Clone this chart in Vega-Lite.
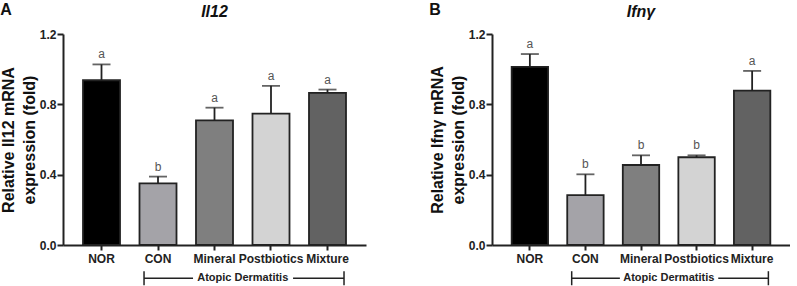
{
  "$schema": "https://vega.github.io/schema/vega-lite/v6.json",
  "padding": {"left": 0, "top": 2, "right": 0, "bottom": 0},
  "spacing": 63,
  "config": {
    "font": "Liberation Sans",
    "view": {"stroke": null},
    "title": {"font": "Liberation Sans"},
    "axis": {"labelFont": "Liberation Sans", "titleFont": "Liberation Sans"}
  },
  "datasets": {
    "il12": [
      {"group": "NOR", "mean": 0.937, "upper": 1.027, "letter": "a"},
      {"group": "CON", "mean": 0.350, "upper": 0.389, "letter": "b"},
      {"group": "Mineral", "mean": 0.709, "upper": 0.781, "letter": "a"},
      {"group": "Postbiotics", "mean": 0.747, "upper": 0.905, "letter": "a"},
      {"group": "Mixture", "mean": 0.865, "upper": 0.884, "letter": "a"}
    ],
    "ifng": [
      {"group": "NOR", "mean": 1.013, "upper": 1.086, "letter": "a"},
      {"group": "CON", "mean": 0.284, "upper": 0.402, "letter": "b"},
      {"group": "Mineral", "mean": 0.455, "upper": 0.510, "letter": "b"},
      {"group": "Postbiotics", "mean": 0.499, "upper": 0.510, "letter": "b"},
      {"group": "Mixture", "mean": 0.878, "upper": 0.990, "letter": "a"}
    ],
    "bracket": [
      {"x1": 1.753, "x2": 2.62, "y1": -0.189, "y2": -0.189},
      {"x1": 4.39, "x2": 5.292, "y1": -0.189, "y2": -0.189},
      {"x1": 1.753, "x2": 1.753, "y1": -0.149, "y2": -0.229},
      {"x1": 5.292, "x2": 5.292, "y1": -0.149, "y2": -0.229}
    ],
    "bracketLabel": [
      {"x": 3.5, "y": -0.189, "label": "Atopic Dermatitis"}
    ]
  },
  "hconcat": [
    {
      "title": {"text": "A", "anchor": "start", "frame": "bounds", "fontSize": 16, "fontWeight": "bold", "color": "#111", "dy": 18},
      "vconcat": [
        {
          "width": 303,
          "height": 211,
          "title": {"text": "Il12", "fontSize": 16, "fontWeight": "bold", "fontStyle": "italic", "color": "#111", "offset": 8},
          "layer": [
            {
              "data": {"name": "il12"},
              "encoding": {
                "x": {"field": "group", "type": "nominal", "sort": ["NOR", "CON", "Mineral", "Postbiotics", "Mixture"],
                  "scale": {"paddingInner": 0.345, "paddingOuter": 0.354},
                  "axis": {"title": null, "labelAngle": 0, "labelFontWeight": "bold", "labelFontSize": 12, "labelColor": "#222", "domainColor": "#222", "domainWidth": 2, "tickColor": "#222", "tickWidth": 2, "tickSize": 5, "labelPadding": 3}},
                "y": {"field": "mean", "type": "quantitative",
                  "scale": {"domain": [0, 1.2], "nice": false},
                  "axis": {"title": ["Relative Il12 mRNA", "expression (fold)"], "values": [0, 0.4, 0.8, 1.2], "format": ".1f", "grid": false, "labelFontWeight": "bold", "labelFontSize": 12, "labelColor": "#222", "domainColor": "#222", "domainWidth": 2, "tickColor": "#222", "tickWidth": 2, "tickSize": 6, "labelPadding": 1, "titleFontSize": 16, "titleFontWeight": "bold", "titleColor": "#111", "titleLineHeight": 21, "titlePadding": 2}}
              },
              "layer": [
                {"mark": {"type": "bar", "stroke": "#222", "strokeWidth": 1.8},
                  "encoding": {"color": {"field": "group", "type": "nominal", "legend": null,
                    "scale": {"domain": ["NOR", "CON", "Mineral", "Postbiotics", "Mixture"], "range": ["#000000", "#a4a3a8", "#7f7f7f", "#d3d3d3", "#626262"]}}}},
                {"mark": {"type": "rule", "strokeWidth": 1.8, "color": "#222"},
                  "encoding": {"y2": {"field": "upper"}}},
                {"mark": {"type": "tick", "size": 18, "thickness": 1.8, "color": "#222"},
                  "encoding": {"y": {"field": "upper", "type": "quantitative"}}},
                {"mark": {"type": "text", "baseline": "alphabetic", "dy": -6, "fontSize": 12, "fill": "#555"},
                  "encoding": {"y": {"field": "upper", "type": "quantitative"}, "text": {"field": "letter"}}}
              ]
            },
            {
              "data": {"name": "bracket"},
              "mark": {"type": "rule", "strokeWidth": 1.5, "color": "#222", "clip": false},
              "encoding": {
                "x": {"field": "x1", "type": "quantitative", "scale": {"domain": [0.319, 5.681], "nice": false, "zero": false}, "axis": null},
                "x2": {"field": "x2"},
                "y": {"field": "y1", "type": "quantitative", "scale": {"domain": [0, 1.2], "nice": false}, "axis": null},
                "y2": {"field": "y2"}
              }
            },
            {
              "data": {"name": "bracketLabel"},
              "mark": {"type": "text", "fontSize": 11, "fontWeight": "bold", "color": "#222", "baseline": "middle", "clip": false},
              "encoding": {
                "x": {"field": "x", "type": "quantitative", "scale": {"domain": [0.319, 5.681], "nice": false, "zero": false}, "axis": null},
                "y": {"field": "y", "type": "quantitative", "scale": {"domain": [0, 1.2], "nice": false}, "axis": null},
                "text": {"field": "label"}
              }
            }
          ],
          "resolve": {"scale": {"x": "independent", "y": "independent"}}
        }
      ]
    },
    {
      "title": {"text": "B", "anchor": "start", "frame": "bounds", "fontSize": 16, "fontWeight": "bold", "color": "#111", "dy": 18},
      "vconcat": [
        {
          "width": 298,
          "height": 211,
          "title": {"text": "Ifnγ", "fontSize": 16, "fontWeight": "bold", "fontStyle": "italic", "color": "#111", "offset": 8},
          "layer": [
            {
              "data": {"name": "ifng"},
              "encoding": {
                "x": {"field": "group", "type": "nominal", "sort": ["NOR", "CON", "Mineral", "Postbiotics", "Mixture"],
                  "scale": {"paddingInner": 0.345, "paddingOuter": 0.354},
                  "axis": {"title": null, "labelAngle": 0, "labelFontWeight": "bold", "labelFontSize": 12, "labelColor": "#222", "domainColor": "#222", "domainWidth": 2, "tickColor": "#222", "tickWidth": 2, "tickSize": 5, "labelPadding": 3}},
                "y": {"field": "mean", "type": "quantitative",
                  "scale": {"domain": [0, 1.2], "nice": false},
                  "axis": {"title": ["Relative Ifnγ mRNA", "expression (fold)"], "values": [0, 0.4, 0.8, 1.2], "format": ".1f", "grid": false, "labelFontWeight": "bold", "labelFontSize": 12, "labelColor": "#222", "domainColor": "#222", "domainWidth": 2, "tickColor": "#222", "tickWidth": 2, "tickSize": 6, "labelPadding": 1, "titleFontSize": 16, "titleFontWeight": "bold", "titleColor": "#111", "titleLineHeight": 21, "titlePadding": 2}}
              },
              "layer": [
                {"mark": {"type": "bar", "stroke": "#222", "strokeWidth": 1.8},
                  "encoding": {"color": {"field": "group", "type": "nominal", "legend": null,
                    "scale": {"domain": ["NOR", "CON", "Mineral", "Postbiotics", "Mixture"], "range": ["#000000", "#a4a3a8", "#7f7f7f", "#d3d3d3", "#626262"]}}}},
                {"mark": {"type": "rule", "strokeWidth": 1.8, "color": "#222"},
                  "encoding": {"y2": {"field": "upper"}}},
                {"mark": {"type": "tick", "size": 18, "thickness": 1.8, "color": "#222"},
                  "encoding": {"y": {"field": "upper", "type": "quantitative"}}},
                {"mark": {"type": "text", "baseline": "alphabetic", "dy": -6, "fontSize": 12, "fill": "#555"},
                  "encoding": {"y": {"field": "upper", "type": "quantitative"}, "text": {"field": "letter"}}}
              ]
            },
            {
              "data": {"name": "bracket"},
              "mark": {"type": "rule", "strokeWidth": 1.5, "color": "#222", "clip": false},
              "encoding": {
                "x": {"field": "x1", "type": "quantitative", "scale": {"domain": [0.319, 5.681], "nice": false, "zero": false}, "axis": null},
                "x2": {"field": "x2"},
                "y": {"field": "y1", "type": "quantitative", "scale": {"domain": [0, 1.2], "nice": false}, "axis": null},
                "y2": {"field": "y2"}
              }
            },
            {
              "data": {"name": "bracketLabel"},
              "mark": {"type": "text", "fontSize": 11, "fontWeight": "bold", "color": "#222", "baseline": "middle", "clip": false},
              "encoding": {
                "x": {"field": "x", "type": "quantitative", "scale": {"domain": [0.319, 5.681], "nice": false, "zero": false}, "axis": null},
                "y": {"field": "y", "type": "quantitative", "scale": {"domain": [0, 1.2], "nice": false}, "axis": null},
                "text": {"field": "label"}
              }
            }
          ],
          "resolve": {"scale": {"x": "independent", "y": "independent"}}
        }
      ]
    }
  ]
}
